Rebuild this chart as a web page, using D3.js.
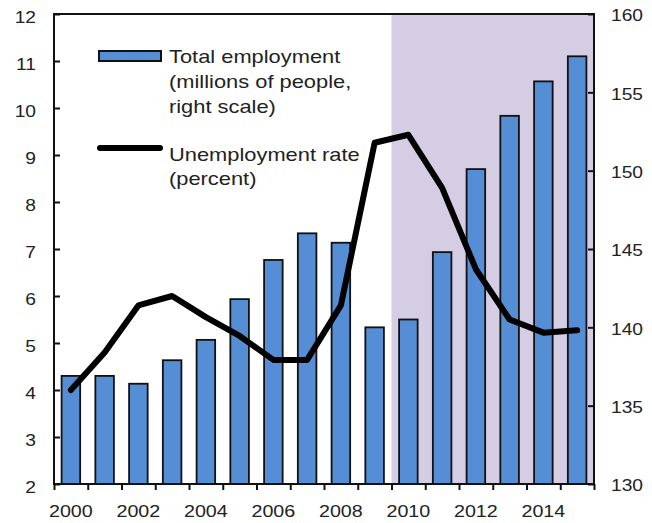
<!DOCTYPE html>
<html>
<head>
<meta charset="utf-8">
<script src="https://cdn.jsdelivr.net/npm/d3@7"></script>
<style>
    body { margin: 0; background: #ffffff; }
    svg { display: block; }
    text { font-family: "Liberation Sans", Arial, sans-serif; fill: #222222; }
</style>
</head>
<body>
<svg></svg>
<script>
let years = [2000, 2001, 2002, 2003, 2004, 2005, 2006, 2007, 2008, 2009, 2010, 2011, 2012, 2013, 2014, 2015];
let employment = [136.9, 136.9, 136.4, 137.9, 139.2, 141.8, 144.3, 146.0, 145.4, 140.0, 140.5, 144.8, 150.1, 153.5, 155.7, 157.3];
let unemployment = [4.0, 4.8, 5.8, 6.0, 5.55, 5.15, 4.64, 4.64, 5.8, 9.26, 9.43, 8.3, 6.57, 5.5, 5.22, 5.27];
let leftTicks = [2, 3, 4, 5, 6, 7, 8, 9, 10, 11, 12];
let rightTicks = [130, 135, 140, 145, 150, 155, 160];
let xLabels = [2000, 2002, 2004, 2006, 2008, 2010, 2012, 2014];
let shadedFrom = 2010;

let width = 652;
let height = 523;
let plotLeft = 54;
let plotRight = 594;
let plotTop = 14;
let plotBottom = 484;
let pad = 0.45;
let stretch = 1.2;

let svg = d3.select("svg")
    .attr("width", width)
    .attr("height", height);

let xScale = d3.scaleBand()
    .domain(years)
    .range([plotLeft, plotRight])
    .paddingInner(pad)
    .paddingOuter(pad / 2);

let xEdges = d3.scaleLinear()
    .domain([years[0], years[years.length - 1] + 1])
    .range([plotLeft, plotRight]);

let yLeft = d3.scaleLinear()
    .domain([2, 12])
    .range([plotBottom, plotTop]);

let yRight = d3.scaleLinear()
    .domain([130, 160])
    .range([plotBottom, plotTop]);

// widen the glyphs about their anchor point, the original text is stretched
let widen = (sel, sx) => {
    sel.each(function () {
        let x = +d3.select(this).attr("x") || 0;
        d3.select(this).attr("transform", "translate(" + (x * (1 - sx)) + ",0) scale(" + sx + ",1)");
    });
};

// shaded projection period
svg.append("rect")
    .attr("x", xEdges(shadedFrom))
    .attr("y", plotTop)
    .attr("width", xEdges(years[years.length - 1] + 1) - xEdges(shadedFrom))
    .attr("height", plotBottom - plotTop)
    .attr("fill", "#d5cde3");

// bars
svg.selectAll(".bar")
    .data(years)
    .enter()
    .append("rect")
    .attr("class", "bar")
    .attr("x", (d) => xScale(d))
    .attr("width", xScale.bandwidth())
    .attr("y", (d, i) => yRight(employment[i]))
    .attr("height", (d, i) => plotBottom - yRight(employment[i]))
    .attr("fill", "#558ed5")
    .attr("stroke", "#111111")
    .attr("stroke-width", 1.8);

// unemployment line
let line = d3.line()
    .x((d, i) => xScale(years[i]) + xScale.bandwidth() / 2)
    .y((d) => yLeft(d));

svg.append("path")
    .datum(unemployment)
    .attr("d", line)
    .attr("fill", "none")
    .attr("stroke", "#000000")
    .attr("stroke-width", 6)
    .attr("stroke-linejoin", "round")
    .attr("stroke-linecap", "round");

// frame
svg.append("rect")
    .attr("x", plotLeft)
    .attr("y", plotTop)
    .attr("width", plotRight - plotLeft)
    .attr("height", plotBottom - plotTop)
    .attr("fill", "none")
    .attr("stroke", "#111111")
    .attr("stroke-width", 2);

let leftAxis = svg.append("g")
    .attr("transform", "translate(" + plotLeft + ",0)")
    .call(d3.axisLeft(yLeft).tickValues(leftTicks).tickSizeInner(-6).tickSizeOuter(0).tickPadding(18));

let rightAxis = svg.append("g")
    .attr("transform", "translate(" + plotRight + ",0)")
    .call(d3.axisRight(yRight).tickValues(rightTicks).tickSizeInner(-6).tickSizeOuter(0).tickPadding(17));

// bottom ticks sit on the category edges
let tickAxis = svg.append("g")
    .attr("transform", "translate(0," + plotBottom + ")")
    .call(d3.axisBottom(xEdges).tickValues(years.concat([years[years.length - 1] + 1])).tickSize(6).tickFormat(""));

// bottom labels sit on the category centres
let labelAxis = svg.append("g")
    .attr("transform", "translate(0," + plotBottom + ")")
    .call(d3.axisBottom(xScale).tickValues(xLabels).tickSize(0).tickPadding(22));

[leftAxis, rightAxis, tickAxis, labelAxis].forEach((g) => {
    g.select(".domain").remove();
    g.selectAll("line").attr("stroke", "#111111").attr("stroke-width", 2);
    g.selectAll("text").style("font-size", "16px").attr("fill", "#222222");
});

leftAxis.selectAll("text").attr("dy", "0.5em");
rightAxis.selectAll("text").attr("dy", "0.42em");
labelAxis.selectAll("line").remove();

widen(leftAxis.selectAll("text"), stretch);
widen(rightAxis.selectAll("text"), stretch);
widen(labelAxis.selectAll("text"), 1.23);

// legend
let legend = svg.append("g");

legend.append("rect")
    .attr("x", 99)
    .attr("y", 51)
    .attr("width", 62)
    .attr("height", 10)
    .attr("fill", "#558ed5")
    .attr("stroke", "#111111")
    .attr("stroke-width", 2);

legend.append("line")
    .attr("x1", 100)
    .attr("x2", 160)
    .attr("y1", 148)
    .attr("y2", 148)
    .attr("stroke", "#000000")
    .attr("stroke-width", 6)
    .attr("stroke-linecap", "round");

let legendLines = [
    ["Total employment", 63],
    ["(millions of people,", 88],
    ["right scale)", 113],
    ["Unemployment rate", 161],
    ["(percent)", 185]
];

legend.selectAll("text")
    .data(legendLines)
    .enter()
    .append("text")
    .attr("x", 169)
    .attr("y", (d) => d[1])
    .style("font-size", "17.5px")
    .text((d) => d[0])
    .call(widen, 1.25);
</script>
</body>
</html>
